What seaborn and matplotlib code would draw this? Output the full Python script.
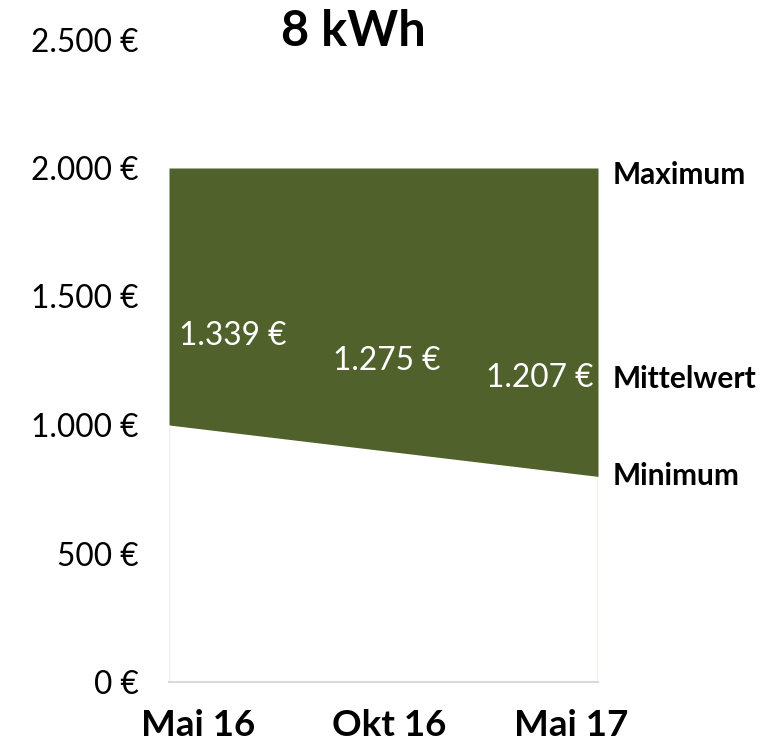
import numpy as np
import pandas as pd
import seaborn as sns
import matplotlib.pyplot as plt
from matplotlib.ticker import FuncFormatter
from matplotlib.transforms import ScaledTranslation

# data
months = ['Mai 16', 'Okt 16', 'Mai 17']
minimum = [1000, 900, 800]
maximum = [2000, 2000, 2000]
mittelwert = [1339, 1275, 1207]
title = '8 kWh'

green = '#51612B'

sns.set_style("white")
plt.rcParams['font.family'] = ['Lato', 'DejaVu Sans']
plt.rcParams['text.color'] = 'black'
plt.rcParams['xtick.color'] = 'black'
plt.rcParams['ytick.color'] = 'black'

fig = plt.figure(figsize=(7.7, 7.41), dpi=100)
ax = fig.add_axes([169/770, 1-682/741, (598-169)/770, (682-39.5)/741])

df = pd.DataFrame({'Monat': months, 'Minimum': minimum, 'Maximum': maximum, 'Mittelwert': mittelwert})
x = np.arange(len(df))
spread = df['Maximum'] - df['Minimum']
ax.stackplot(x, df['Minimum'], spread, colors=['white', green], linewidth=0)

# thin edges of the white area
ax.vlines(0, 0, df['Minimum'].iloc[0], color='#EEEEEE', lw=1)
ax.vlines(2, 0, df['Minimum'].iloc[2], color='#B9BC9C', lw=1)

def euro(v):
    return f"{int(v):,}".replace(',', '.') + ' €'

# mean labels
has = ['left', 'center', 'right']
offs = [(7.5, 1.5), (2, -4.5), (-3.5, -4.5)]
for i, v in enumerate(df['Mittelwert']):
    ax.annotate(euro(v), (x[i], v), xytext=offs[i], textcoords='offset points',
                ha=has[i], va='center', color='white', fontsize=22.8)

# series labels on the right
for name, val, dy in [('Maximum', 2000, -5), ('Mittelwert', 1207, -5), ('Minimum', 800, 0)]:
    ax.annotate(name, (2, val), xytext=(10.5, dy), textcoords='offset points',
                ha='left', va='center', fontsize=21.5, fontweight='bold', annotation_clip=False)

ax.set_xlim(0, 2)
ax.set_ylim(0, 2500)
ax.set_xticks(x)
ax.set_xticklabels(months, fontsize=26.5, fontweight='bold')
ax.set_yticks(range(0, 2501, 500))
ax.yaxis.set_major_formatter(FuncFormatter(lambda v, p: euro(v)))
ax.tick_params(axis='y', length=0, labelsize=22.8, pad=22)
ax.tick_params(axis='x', length=8, width=1.5, color='#D9D9D9', direction='out', pad=11.5)
for s in ['top', 'right', 'left']:
    ax.spines[s].set_visible(False)
ax.spines['bottom'].set_color('#D9D9D9')
ax.spines['bottom'].set_linewidth(1.5)
ax.grid(False)

# shift month labels like the reference (kept inside plot width)
for lab, dx in zip(ax.get_xticklabels(), [29, 6, -27]):
    lab.set_transform(lab.get_transform() + ScaledTranslation(dx/100, 0, fig.dpi_scale_trans))

fig.text(353/770, 1-32/741, title, ha='center', va='center', fontsize=35, fontweight='bold')

fig.savefig('out.png', dpi=100, facecolor='white')
